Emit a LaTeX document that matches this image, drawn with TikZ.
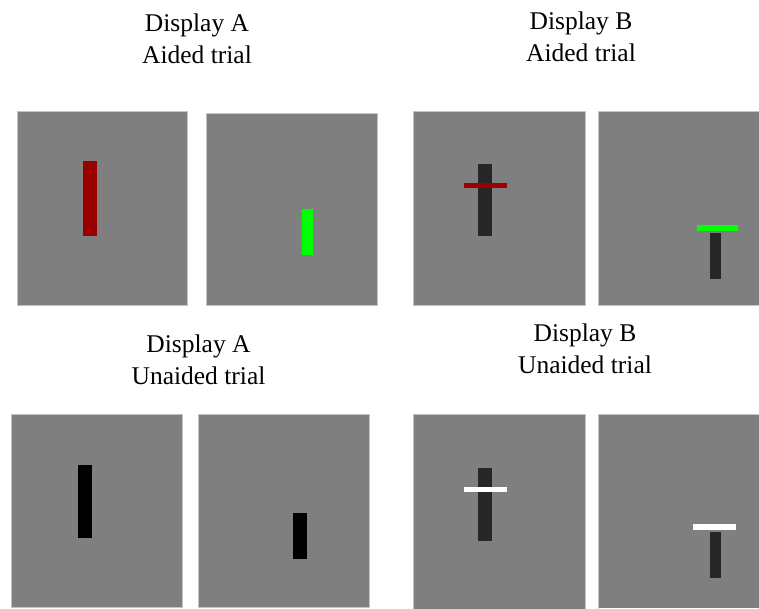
\documentclass[tikz,border=0pt]{standalone}
\usepackage{fontspec}
\setmainfont{Liberation Serif}
\definecolor{panelgray}{HTML}{7F7F7F}
\definecolor{edgegray}{HTML}{C4C4C4}
\definecolor{darkbar}{HTML}{262626}
\definecolor{redbar}{HTML}{990000}
\definecolor{greenbar}{HTML}{00FF00}
\tikzset{
  panel/.style={fill=panelgray, draw=edgegray, line width=0.8pt},
  panelfill/.style={fill=panelgray},
  paneledge/.style={draw=edgegray, line width=0.8pt},
  title/.style={anchor=base, inner sep=0pt, font=\fontsize{25.5}{32}\selectfont},
}
\begin{document}
\begin{tikzpicture}[x=1pt,y=-1pt]
\useasboundingbox (0,0) rectangle (759,608);
\fill[white] (0,0) rectangle (759,608);

% titles
\node[title] (ta1) at (197,31) {Display A};
\node[title] (ta2) at (197,63) {Aided trial};
\node[title] (tb1) at (581,29.5) {Display B};
\node[title] (tb2) at (581,61) {Aided trial};
\node[title] (tc1) at (198.5,352) {Display A};
\node[title] (tc2) at (198.5,384) {Unaided trial};
\node[title] (td1) at (585,341) {Display B};
\node[title] (td2) at (585,373) {Unaided trial};

% Display A aided
\path[panel] (17,111) rectangle (187,305);
\fill[redbar] (83,161) rectangle (97,236);
\path[panel] (206,113) rectangle (377,305);
\fill[greenbar] (302,209) rectangle (313,255);

% Display B aided
\path[panel] (413,111) rectangle (585,305);
\fill[darkbar] (478,164) rectangle (492,236);
\fill[redbar] (464,183) rectangle (507,188);
\path[panelfill] (598,111) rectangle (759,305);
\draw[paneledge] (760,111) -- (598,111) -- (598,305) -- (760,305);
\fill[greenbar] (697,225) rectangle (738,231);
\fill[darkbar] (710,233) rectangle (721,279);

% Display A unaided
\path[panel] (11,414) rectangle (182,607);
\fill[black] (78,465) rectangle (92,538);
\path[panel] (198,414) rectangle (369,607);
\fill[black] (293,513) rectangle (307,559);

% Display B unaided
\path[panel] (413,414) rectangle (585,609);
\fill[darkbar] (478,468) rectangle (492,541);
\fill[white] (464,487) rectangle (507,492);
\path[panelfill] (598,414) rectangle (759,608);
\draw[paneledge] (760,414) -- (598,414) -- (598,609);
\fill[white] (693,524) rectangle (736,530);
\fill[darkbar] (710,532) rectangle (721,578);
\end{tikzpicture}
\end{document}
